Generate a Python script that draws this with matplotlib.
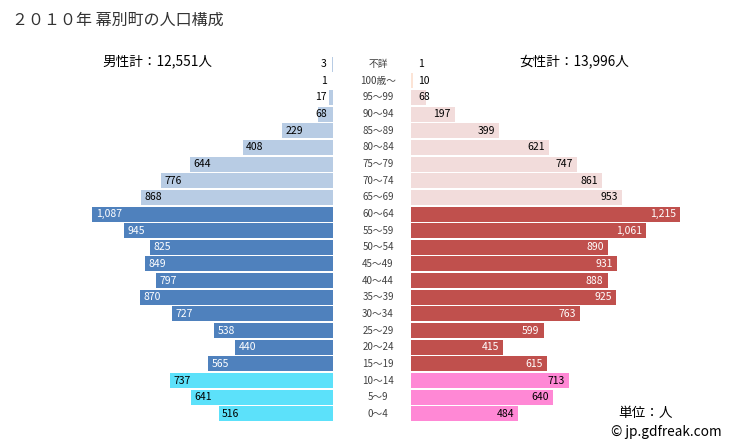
import matplotlib.pyplot as plt
import matplotlib.transforms as mtransforms

plt.rcParams['font.family'] = ['Noto Sans CJK JP', 'DejaVu Sans']

ages = ['不詳', '100歳～', '95～99', '90～94', '85～89', '80～84', '75～79',
        '70～74', '65～69', '60～64', '55～59', '50～54', '45～49', '40～44',
        '35～39', '30～34', '25～29', '20～24', '15～19', '10～14', '5～9', '0～4']
male = [3, 1, 17, 68, 229, 408, 644, 776, 868, 1087, 945, 825, 849, 797,
        870, 727, 538, 440, 565, 737, 641, 516]
female = [1, 10, 68, 197, 399, 621, 747, 861, 953, 1215, 1061, 890, 931, 888,
          925, 763, 599, 415, 615, 713, 640, 484]

# colour groups: 0 = elderly (65+), 1 = working age, 2 = children
groups = [0] * 9 + [1] * 10 + [2] * 3
male_colors = ['#b8cce4', '#4f81bd', '#5ce1fa']
female_colors = ['#f2dcdb', '#c0504d', '#ff88d5']
text_colors = ['#000000', '#ffffff', '#000000']

W, H = 729, 446
s = 0.2216  # pixels per person
fig = plt.figure(figsize=(W / 100, H / 100), dpi=100)

top_px = 64 - 8.33
bot_px = 414 + 8.33
ax_b = 1 - bot_px / H
ax_h = (bot_px - top_px) / H

left_l, left_r = 10, 333
axL = fig.add_axes([left_l / W, ax_b, (left_r - left_l) / W, ax_h])
right_l, right_r = 411, 721
axR = fig.add_axes([right_l / W, ax_b, (right_r - right_l) / W, ax_h])

axL.set_xlim((left_r - left_l) / s, 0)
axR.set_xlim(0, (right_r - right_l) / s)
for ax in (axL, axR):
    ax.set_ylim(len(ages) - 0.5, -0.5)
    ax.axis('off')

ys = list(range(len(ages)))
mc = [male_colors[g] for g in groups]
fc = [female_colors[g] for g in groups]
fc[1] = '#fce4d6'
axL.barh(ys, male, height=0.9, color=mc)
axR.barh(ys, female, height=0.9, color=fc)

for i, (m, f, g) in enumerate(zip(male, female, groups)):
    tc = text_colors[g]
    if m >= 100:
        axL.annotate(f'{m:,}', (m, i), xytext=(2.5, 0), textcoords='offset points',
                     ha='left', va='center', fontsize=7.5, color=tc)
    else:
        axL.annotate(f'{m:,}', (0, i), xytext=(-4.5, 0), textcoords='offset points',
                     ha='right', va='center', fontsize=7.5, color='#000000')
    if f >= 100:
        axR.annotate(f'{f:,}', (f, i), xytext=(-3, 0), textcoords='offset points',
                     ha='right', va='center', fontsize=7.5, color=tc)
    else:
        axR.annotate(f'{f:,}', (0, i), xytext=(5, 0), textcoords='offset points',
                     ha='left', va='center', fontsize=7.5, color='#000000')

trans = mtransforms.blended_transform_factory(fig.transFigure, axL.transData)
for i, a in enumerate(ages):
    fig.text(378 / W, i, a, transform=trans, ha='center', va='center',
             fontsize=7, color='#404040')

fig.text(12 / W, 1 - 20 / H, '２０１０年 幕別町の人口構成', ha='left', va='center',
         fontsize=11.5, color='#333333')
fig.text(157 / W, 1 - 61 / H, '男性計：12,551人', ha='center', va='center',
         fontsize=9.8, color='#000000')
fig.text(574 / W, 1 - 62 / H, '女性計：13,996人', ha='center', va='center',
         fontsize=9.8, color='#000000')
fig.text(646 / W, 1 - 413 / H, '単位：人', ha='center', va='center',
         fontsize=9.8, color='#000000')
fig.text(666 / W, 1 - 432 / H, '© jp.gdfreak.com', ha='center', va='center',
         fontsize=9.8, color='#000000')

fig.savefig('out.png', dpi=100)
